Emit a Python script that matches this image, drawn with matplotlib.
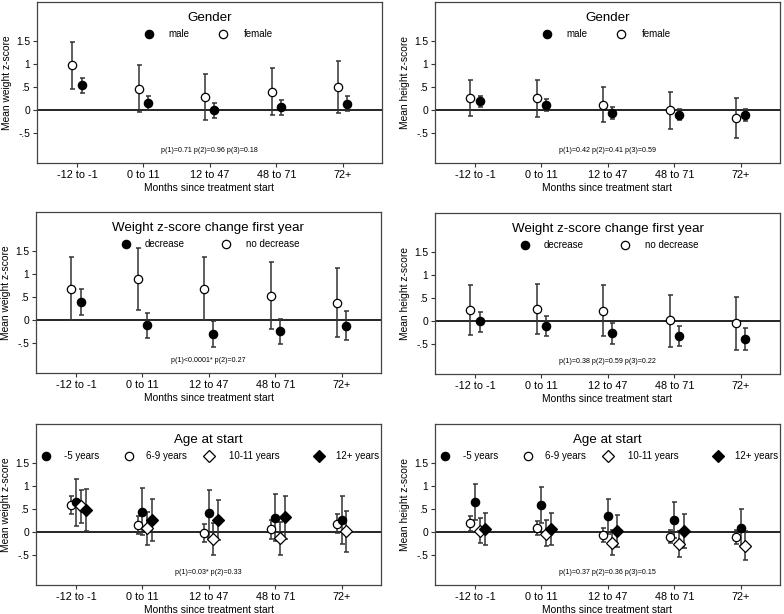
import numpy as np
import matplotlib.pyplot as plt

plt.rcParams['font.family'] = ['Liberation Sans', 'DejaVu Sans']

months = ['-12 to -1', '0 to 11', '12 to 47', '48 to 71', '72+']
nan = np.nan

# Gender - weight
gw_male = [0.55, 0.165, 0.0, 0.065, 0.14]
gw_male_lo = [0.38, 0.0, -0.16, -0.10, -0.02]
gw_male_hi = [0.70, 0.32, 0.17, 0.22, 0.32]
gw_female = [0.98, 0.46, 0.28, 0.40, 0.50]
gw_female_lo = [0.47, -0.04, -0.21, -0.11, -0.06]
gw_female_hi = [1.49, 0.98, 0.79, 0.93, 1.07]

# Gender - height
gh_male = [0.20, 0.115, -0.05, -0.09, -0.11]
gh_male_lo = [0.08, -0.01, -0.18, -0.21, -0.24]
gh_male_hi = [0.32, 0.24, 0.065, 0.04, 0.02]
gh_female = [0.27, 0.26, 0.12, 0.0, -0.16]
gh_female_lo = [-0.12, -0.14, -0.26, -0.40, -0.59]
gh_female_hi = [0.66, 0.65, 0.50, 0.39, 0.27]

# Weight change first year - weight
cw_dec = [0.40, -0.11, -0.29, -0.24, -0.115]
cw_dec_lo = [0.12, -0.38, -0.57, -0.52, -0.42]
cw_dec_hi = [0.69, 0.17, -0.01, 0.03, 0.20]
cw_nodec = [0.69, 0.89, 0.68, 0.53, 0.38]
cw_nodec_lo = [0.0, 0.22, 0.0, -0.18, -0.37]
cw_nodec_hi = [1.37, 1.57, 1.37, 1.26, 1.13]

# Weight change first year - height
ch_dec = [0.0, -0.10, -0.26, -0.31, -0.38]
ch_dec_lo = [-0.22, -0.32, -0.48, -0.54, -0.62]
ch_dec_hi = [0.21, 0.115, -0.04, -0.09, -0.14]
ch_nodec = [0.245, 0.27, 0.23, 0.02, -0.04]
ch_nodec_lo = [-0.30, -0.27, -0.31, -0.55, -0.63]
ch_nodec_hi = [0.78, 0.81, 0.78, 0.58, 0.53]

# Age at start - weight
aw_5 = [0.65, 0.45, 0.42, 0.32, 0.27]
aw_5_lo = [0.13, -0.065, -0.115, -0.19, -0.26]
aw_5_hi = [1.16, 0.97, 0.93, 0.83, 0.80]
aw_69 = [0.59, 0.165, -0.015, 0.07, 0.19]
aw_69_lo = [0.39, -0.04, -0.215, -0.14, -0.01]
aw_69_hi = [0.79, 0.36, 0.18, 0.27, 0.40]
aw_1011 = [0.58, 0.09, -0.14, -0.13, 0.02]
aw_1011_lo = [0.21, -0.27, -0.50, -0.50, -0.43]
aw_1011_hi = [0.93, 0.44, 0.21, 0.23, 0.47]
aw_12 = [0.49, 0.27, 0.27, 0.33, nan]
aw_12_lo = [0.04, -0.19, -0.17, -0.14, nan]
aw_12_hi = [0.94, 0.72, 0.70, 0.80, nan]

# Age at start - height
ah_5 = [0.67, 0.60, 0.345, 0.27, 0.10]
ah_5_lo = [0.27, 0.20, -0.04, -0.13, -0.29]
ah_5_hi = [1.06, 0.98, 0.73, 0.65, 0.50]
ah_69 = [0.20, 0.10, -0.05, -0.09, -0.10]
ah_69_lo = [0.04, -0.06, -0.21, -0.24, -0.26]
ah_69_hi = [0.35, 0.245, 0.10, 0.06, 0.05]
ah_1011 = [0.04, -0.03, -0.22, -0.25, -0.29]
ah_1011_lo = [-0.23, -0.30, -0.50, -0.54, -0.60]
ah_1011_hi = [0.32, 0.26, 0.06, 0.02, 0.04]
ah_12 = [0.07, 0.07, 0.03, 0.03, nan]
ah_12_lo = [-0.27, -0.28, -0.32, -0.33, nan]
ah_12_hi = [0.42, 0.42, 0.38, 0.39, nan]

x = np.arange(len(months))
ecol = '#333333'


def draw_panel(ax, title, ylabel, series, legend, ptext):
    # series: (marker, filled, offset, mean, lo, hi)
    for marker, filled, off, m, lo, hi in series:
        m = np.array(m)
        lo = np.array(lo)
        hi = np.array(hi)
        ax.errorbar(x + off, m, yerr=[m - lo, hi - m], fmt='none', ecolor=ecol,
                    elinewidth=1.1, capsize=1.8, capthick=1.1, zorder=2)
        ms = 6.5 if marker == 'D' else 6
        ax.plot(x + off, m, marker=marker, ls='none', ms=ms,
                mfc='black' if filled else 'white', mec='black', mew=0.9, zorder=3)
    ax.axhline(0, color='black', lw=1.2, zorder=1)
    ax.set_xlim(-0.6, 4.59)
    ax.set_ylim(-1.14, 2.35)
    ax.set_xticks(x)
    ax.set_xticklabels(months, fontsize=7.8)
    ax.set_yticks([-0.5, 0, 0.5, 1, 1.5])
    ax.set_yticklabels(['-.5', '0', '.5', '1', '1.5'], fontsize=7.4)
    ax.tick_params(length=3, width=0.8, color='#333333', pad=2)
    ax.set_xlabel('Months since treatment start', fontsize=7.4, labelpad=2)
    ax.set_ylabel(ylabel, fontsize=7.4)
    ax.yaxis.set_label_coords(-0.072, 0.5)
    for s in ax.spines.values():
        s.set_color('#444444')
        s.set_linewidth(0.9)
    ax.text(0.5, 0.90, title, transform=ax.transAxes, ha='center', va='center', fontsize=9.6)
    for mx, tx, marker, filled, label in legend:
        ms = 6.5 if marker == 'D' else 6
        ax.plot([mx], [0.80], marker=marker, ms=ms, mfc='black' if filled else 'white',
                mec='black', mew=0.9, transform=ax.transAxes, clip_on=False)
        ax.text(tx, 0.80, label, transform=ax.transAxes, ha='left', va='center', fontsize=7)
    ax.text(0.5, 0.075, ptext, transform=ax.transAxes, ha='center', va='center', fontsize=5.1)


fig = plt.figure(figsize=(7.84, 6.14), dpi=100)
W = 345 / 784
H = 161 / 614
ax1 = fig.add_axes([37 / 784, 1 - 163 / 614, W, H])
ax2 = fig.add_axes([435 / 784, 1 - 163 / 614, W, H])
ax3 = fig.add_axes([36 / 784, 1 - 373 / 614, W, H])
ax4 = fig.add_axes([435 / 784, 1 - 374 / 614, W, H])
ax5 = fig.add_axes([36 / 784, 1 - 585 / 614, W, H])
ax6 = fig.add_axes([435 / 784, 1 - 585 / 614, W, H])

gender_leg = [(0.325, 0.38, 'o', True, 'male'), (0.54, 0.60, 'o', False, 'female')]
change_leg = [(0.26, 0.315, 'o', True, 'decrease'), (0.55, 0.61, 'o', False, 'no decrease')]
age_leg = [(0.029, 0.081, 'o', True, '-5 years'), (0.27, 0.32, 'o', False, '6-9 years'),
           (0.50, 0.56, 'D', False, '10-11 years'), (0.82, 0.87, 'D', True, '12+ years')]

draw_panel(ax1, 'Gender', 'Mean weight z-score',
           [('o', False, -0.07, gw_female, gw_female_lo, gw_female_hi),
            ('o', True, 0.07, gw_male, gw_male_lo, gw_male_hi)],
           gender_leg, 'p(1)=0.71 p(2)=0.96 p(3)=0.18')
draw_panel(ax2, 'Gender', 'Mean height z-score',
           [('o', False, -0.07, gh_female, gh_female_lo, gh_female_hi),
            ('o', True, 0.07, gh_male, gh_male_lo, gh_male_hi)],
           gender_leg, 'p(1)=0.42 p(2)=0.41 p(3)=0.59')
draw_panel(ax3, 'Weight z-score change first year', 'Mean weight z-score',
           [('o', False, -0.07, cw_nodec, cw_nodec_lo, cw_nodec_hi),
            ('o', True, 0.07, cw_dec, cw_dec_lo, cw_dec_hi)],
           change_leg, 'p(1)<0.0001* p(2)=0.27')
draw_panel(ax4, 'Weight z-score change first year', 'Mean height z-score',
           [('o', False, -0.07, ch_nodec, ch_nodec_lo, ch_nodec_hi),
            ('o', True, 0.07, ch_dec, ch_dec_lo, ch_dec_hi)],
           change_leg, 'p(1)=0.38 p(2)=0.59 p(3)=0.22')
draw_panel(ax5, 'Age at start', 'Mean weight z-score',
           [('o', False, -0.07, aw_69, aw_69_lo, aw_69_hi),
            ('o', True, 0.0, aw_5, aw_5_lo, aw_5_hi),
            ('D', False, 0.07, aw_1011, aw_1011_lo, aw_1011_hi),
            ('D', True, 0.145, aw_12, aw_12_lo, aw_12_hi)],
           age_leg, 'p(1)=0.03* p(2)=0.33')
draw_panel(ax6, 'Age at start', 'Mean height z-score',
           [('o', False, -0.07, ah_69, ah_69_lo, ah_69_hi),
            ('o', True, 0.0, ah_5, ah_5_lo, ah_5_hi),
            ('D', False, 0.07, ah_1011, ah_1011_lo, ah_1011_hi),
            ('D', True, 0.145, ah_12, ah_12_lo, ah_12_hi)],
           age_leg, 'p(1)=0.37 p(2)=0.36 p(3)=0.15')

fig.savefig('out.png', dpi=100)
